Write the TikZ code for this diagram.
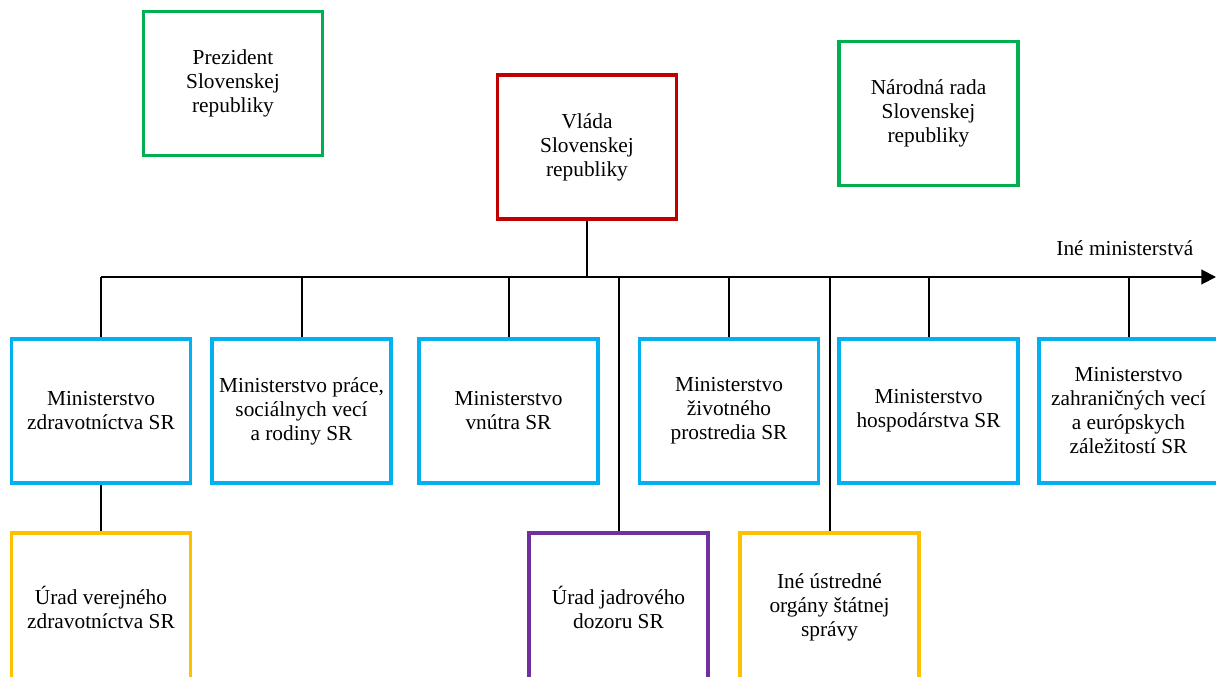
\documentclass[tikz,border=0pt]{standalone}
\usepackage{fontspec}
\setmainfont{Liberation Serif}
\usetikzlibrary{arrows.meta}
\definecolor{zelena}{HTML}{00B050}
\definecolor{cervena}{HTML}{C00000}
\definecolor{modra}{HTML}{00B0F0}
\definecolor{zlta}{HTML}{FFC000}
\definecolor{fialova}{HTML}{7030A0}
\begin{document}
\begin{tikzpicture}[x=0.75pt,y=-0.75pt,
  box/.style={draw=#1,line width=2.6pt,align=center,inner sep=0pt,
    minimum width=134pt,minimum height=108pt,font=\fontsize{16pt}{18pt}\selectfont},
  lowbox/.style={box=#1,minimum height=112pt},
  link/.style={line width=1.5pt}]
\useasboundingbox (0,0) rectangle (1216,677);
\clip (0,0) rectangle (1216,677);
\node[box=zelena] (prez) at (233,83.5) {Prezident\\Slovenskej\\republiky};
\node[box=cervena] (vlada) at (587,147) {Vláda\\Slovenskej\\republiky};
\node[box=zelena] (nrsr) at (928.5,113.5) {Národná rada\\Slovenskej\\republiky};
\node[box=modra] (mzd) at (101,411) {Ministerstvo\\zdravotníctva SR};
\node[box=modra] (mpsv) at (301.5,411) {Ministerstvo práce,\\sociálnych vecí\\a rodiny SR};
\node[box=modra] (mv) at (508.5,411) {Ministerstvo\\vnútra SR};
\node[box=modra] (mzp) at (729,411) {Ministerstvo\\životného\\prostredia SR};
\node[box=modra] (mh) at (928.5,411) {Ministerstvo\\hospodárstva SR};
\node[box=modra] (mzv) at (1128.5,411) {Ministerstvo\\zahraničných vecí\\a európskych\\záležitostí SR};
\node[lowbox=zlta] (uvz) at (101,607.5) {Úrad verejného\\zdravotníctva SR};
\node[lowbox=fialova] (ujd) at (618.5,607.5) {Úrad jadrového\\dozoru SR};
\node[lowbox=zlta] (ine) at (829.5,607.5) {Iné ústredné\\orgány štátnej\\správy};
\coordinate (busL) at (101,277);
\coordinate (busR) at (1216,277);
\draw[link,-{Triangle[length=11pt,width=11pt]}] (busL) -- (busR);
\node[anchor=base east,font=\fontsize{16pt}{18pt}\selectfont] (inem) at (1198,255) {Iné ministerstvá};
\draw[link] (vlada.south) -- (vlada.south |- busL);
\foreach \m in {mzd,mpsv,mv,mzp,mh,mzv,ujd,ine}
  \draw[link] (\m.north) -- (\m.north |- busL);
\draw[link] (mzd.south) -- (uvz.north);
\end{tikzpicture}
\end{document}
